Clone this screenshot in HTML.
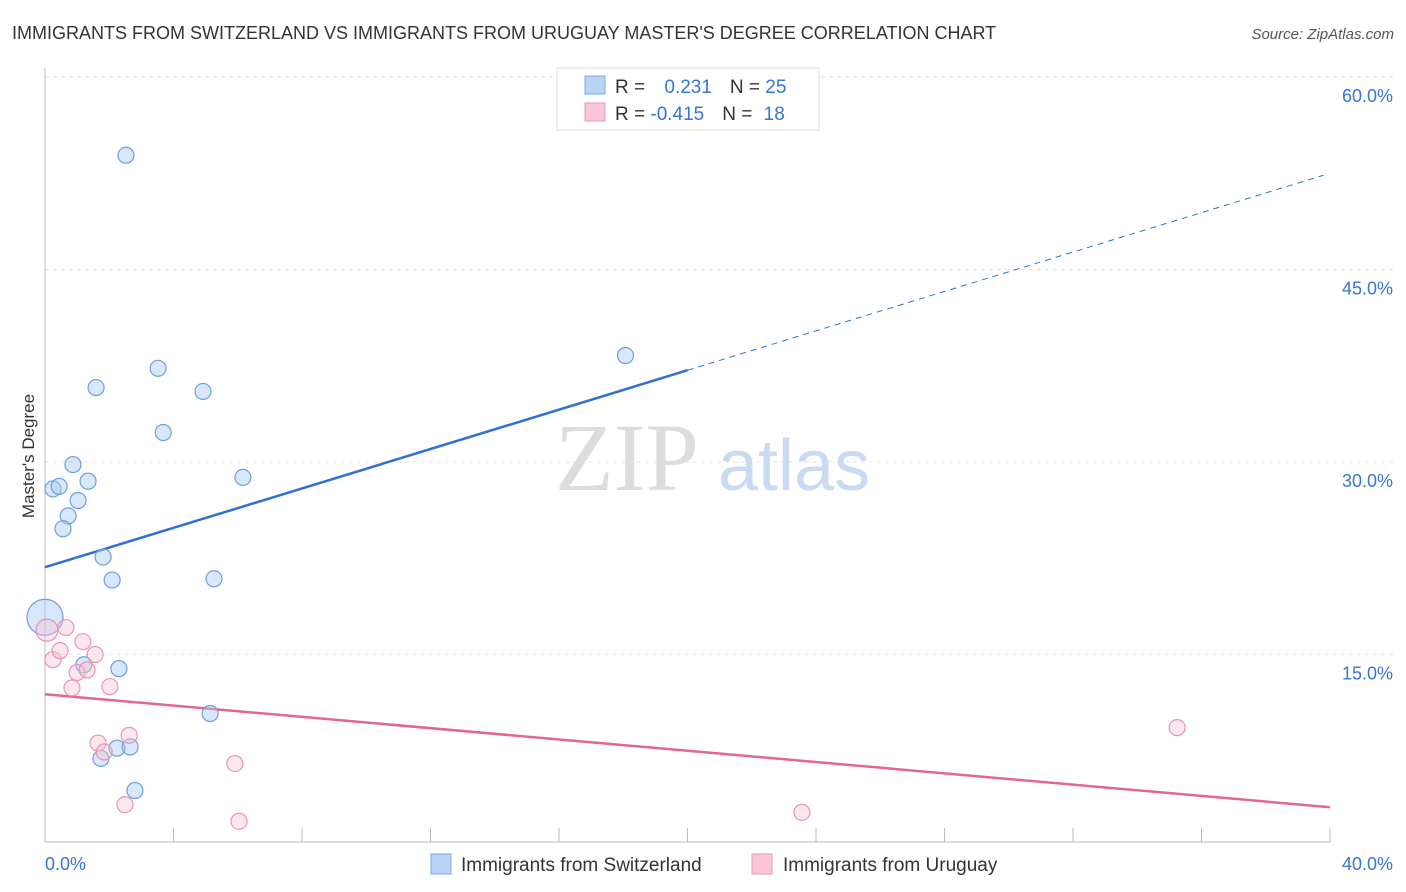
<!DOCTYPE html>
<html><head><meta charset="utf-8"><style>
body{margin:0;background:#fff;font-family:"Liberation Sans",sans-serif;}
svg{display:block}
</style></head><body>
<svg width="1406" height="892" xmlns="http://www.w3.org/2000/svg" font-family="Liberation Sans, sans-serif">
<text x="12" y="39" font-size="18" fill="#333">IMMIGRANTS FROM SWITZERLAND VS IMMIGRANTS FROM URUGUAY MASTER'S DEGREE CORRELATION CHART</text>
<text x="1394" y="39" font-size="15" fill="#555" text-anchor="end" font-style="italic">Source: ZipAtlas.com</text>
<text transform="translate(34,456) rotate(-90)" font-size="17" fill="#333" text-anchor="middle">Master's Degree</text>
<g id="grid"></g>
<g id="axes"></g>
<text x="555" y="490" font-size="96" fill="#ddd" font-family="Liberation Serif, serif">ZIP</text>
<text x="718" y="490" font-size="72" fill="#c9daf2">atlas</text>
<g id="trends"></g>
<g id="points"></g>
<g>
<rect x="557" y="68" width="262" height="62" fill="#fff" stroke="#ddd"/>
<rect x="585" y="76" width="20" height="18" fill="#b8d3f6" stroke="#7fa9e0"/>
<rect x="585" y="103" width="20" height="18" fill="#f9c6d6" stroke="#ec9ab4"/>
<text x="615" y="93" font-size="19" fill="#333">R = <tspan fill="#3874d8" dx="14">0.231</tspan><tspan dx="18" fill="#333">N = </tspan><tspan fill="#3874d8">25</tspan></text>
<text x="615" y="120" font-size="19" fill="#333">R = <tspan fill="#3874d8">-0.415</tspan><tspan dx="18" fill="#333">N = </tspan><tspan fill="#3874d8" dx="6">18</tspan></text>
</g>
<g>
<rect x="431" y="854" width="20" height="20" fill="#b8d3f6" stroke="#7fa9e0"/>
<text x="461" y="871" font-size="19" fill="#333">Immigrants from Switzerland</text>
<rect x="752" y="854" width="20" height="20" fill="#f9c6d6" stroke="#ec9ab4"/>
<text x="783" y="871" font-size="19" fill="#333">Immigrants from Uruguay</text>
</g>
</svg>
<script>
const yTicks=[15,30,45,60];
const xTickLabels=["0.0%","40.0%"];
const blueX=[2.52,0,3.52,1.59,4.92,3.68,18.07,0.87,0.25,0.44,1.34,6.16,1.03,0.72,0.56,1.81,2.09,5.26,1.21,2.30,5.14,2.24,2.65,1.74,2.80];
const blueY=[53.9,17.9,37.3,35.8,35.5,32.3,38.3,29.8,27.9,28.1,28.5,28.8,27.0,25.8,24.8,22.6,20.8,20.9,14.2,13.9,10.4,7.7,7.8,6.9,4.4];
const pinkX=[0.06,0.65,0.25,0.47,1.18,1.56,1.0,1.31,0.84,2.02,2.62,1.65,1.84,5.91,2.49,6.04,23.56,35.24];
const pinkY=[16.9,17.1,14.6,15.3,16.0,15.0,13.6,13.8,12.4,12.5,8.7,8.1,7.4,6.5,3.3,2.0,2.7,9.3];
const blueTrend=[21.8,52.5];
const pinkTrend=[11.9,3.1];
const NS="http://www.w3.org/2000/svg";
const X=v=>45+v/40*1285, Y=v=>847-v/15*192.5;
function mk(t,a,p){const e=document.createElementNS(NS,t);for(const k in a)e.setAttribute(k,a[k]);p.appendChild(e);return e;}
const grid=document.getElementById('grid'),axes=document.getElementById('axes');
yTicks.forEach(t=>{
 const l=mk('line',{x1:45,x2:1394,y1:Y(t),y2:Y(t),stroke:'#e2e2e2','stroke-dasharray':'4,4'},grid);
 
 
 const tx=mk('text',{x:1393,y:Y(t)+25,'font-size':18,fill:'#3874d8','text-anchor':'end'},grid);
 tx.textContent=t.toFixed(1)+'%';
 
 
});
const ya=mk('line',{x1:45,x2:45,y1:68,y2:842,stroke:'#bbb'},axes);


const xa=mk('line',{x1:45,x2:1330,y1:842,y2:842,stroke:'#bbb'},axes);


for(let i=0;i<=10;i++){const tk=mk('line',{x1:X(i*4),x2:X(i*4),y1:828,y2:842,stroke:'#bbb'},axes);
 
 }
[[45,'start'],[1393,'end']].forEach((p,i)=>{const t=mk('text',{x:p[0],y:870,'font-size':18,fill:'#3874d8','text-anchor':p[1]},axes);t.textContent=xTickLabels[i];
 
 });
const tr=document.getElementById('trends');
const bx=20, by=blueTrend[0]+(blueTrend[1]-blueTrend[0])*bx/40;
const b1=mk('line',{x1:X(0),y1:Y(blueTrend[0]),x2:X(bx),y2:Y(by),stroke:'#2f6fd6','stroke-width':2.5},tr);


const b2=mk('line',{x1:X(bx),y1:Y(by),x2:X(39.8),y2:Y(blueTrend[0]+(blueTrend[1]-blueTrend[0])*39.8/40),stroke:'#2f6fd6','stroke-width':1,'stroke-dasharray':'6,5'},tr);


const p1=mk('line',{x1:X(0),y1:Y(pinkTrend[0]),x2:X(40),y2:Y(pinkTrend[1]),stroke:'#e2668f','stroke-width':2.5},tr);


const pts=document.getElementById('points');
blueX.forEach((v,i)=>{const c=mk('circle',{cx:X(v),cy:Y(blueY[i]),r:i==1?18:8,fill:'rgba(170,202,244,0.45)',stroke:'#6d9ee0','stroke-width':1.2},pts);
 
 });
pinkX.forEach((v,i)=>{const c=mk('circle',{cx:X(v),cy:Y(pinkY[i]),r:i==0?11:8,fill:'rgba(248,195,212,0.4)',stroke:'#e994b0','stroke-width':1.2},pts);
 
 });
</script>
</body></html>
